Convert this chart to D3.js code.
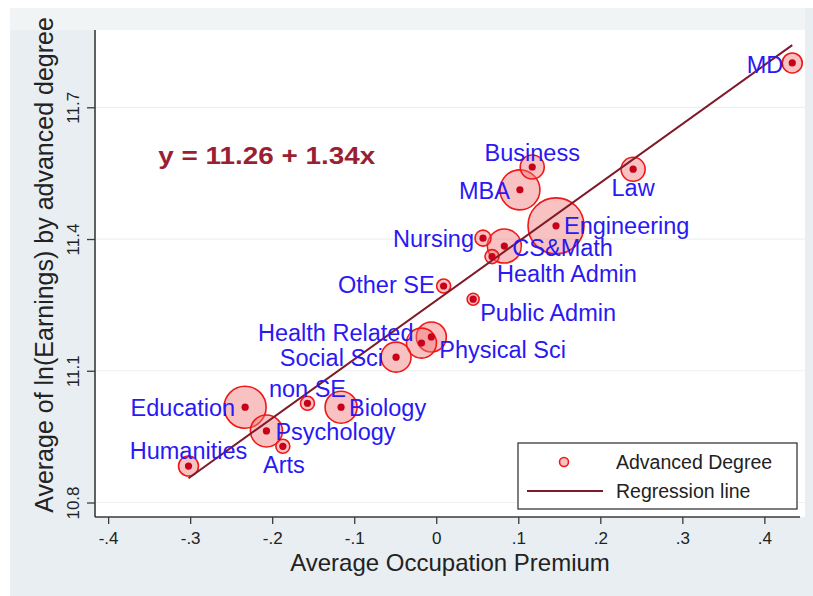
<!DOCTYPE html>
<html>
<head>
<meta charset="utf-8">
<script src="https://cdn.jsdelivr.net/npm/d3@7"></script>
<style>
  body { margin: 0; background: #fff; }
  svg { display: block; font-family: "Liberation Sans", Arial, sans-serif; }
</style>
</head>
<body>
<svg id="chart" width="813" height="596"></svg>
<script>
// fields of study and their averages
var fields = ["MD", "Business", "MBA", "Law", "Engineering", "Nursing", "CS&Math", "Health Admin",
  "Other SE", "Public Admin", "Physical Sci", "Health Related", "Social Sci", "non SE", "Biology",
  "Education", "Psychology", "Arts", "Humanities"];
var premium = [0.434, 0.117, 0.102, 0.240, 0.146, 0.057, 0.083, 0.068,
  0.009, 0.045, -0.006, -0.018, -0.049, -0.157, -0.116,
  -0.233, -0.207, -0.187, -0.302];
var earnings = [11.801, 11.564, 11.512, 11.559, 11.430, 11.402, 11.384, 11.360,
  11.293, 11.263, 11.177, 11.163, 11.131, 11.026, 11.017,
  11.017, 10.963, 10.928, 10.883];
// relative number of people (bubble weight)
var weight = [100, 144, 400, 144, 784, 64, 289, 49,
  49, 36, 225, 225, 225, 49, 256,
  441, 256, 49, 100];
// regression line y = a + b x
var intercept = 11.26, slope = 1.34;
var xTicks = [-0.4, -0.3, -0.2, -0.1, 0, 0.1, 0.2, 0.3, 0.4];
var yTicks = [10.8, 11.1, 11.4, 11.7];

// label placement (dx, dy from point centre, anchor)
var labelPos = {
  "MD": [-9, 2, "end"], "Business": [0, -14, "middle"], "MBA": [-10, 1, "end"],
  "Law": [0, 19, "middle"], "Engineering": [8, 0, "start"], "Nursing": [-9, 1, "end"],
  "CS&Math": [8, 2, "start"], "Health Admin": [5, 17, "start"], "Other SE": [-9, -1, "end"],
  "Public Admin": [7, 14, "start"], "Physical Sci": [8, 13, "start"], "Health Related": [-8, -10, "end"],
  "Social Sci": [-13, 1, "end"], "non SE": [0, -14, "middle"], "Biology": [8, 1, "start"],
  "Education": [-10, 1, "end"], "Psychology": [9, 1, "start"], "Arts": [1, 18, "middle"],
  "Humanities": [0, -15, "middle"]
};

var svg = d3.select("#chart");
var mLeft = 95, mRight = 798, mTop = 30, mBottom = 517;

svg.append("rect").attr("x", 10).attr("y", 8).attr("width", 803).attr("height", 588).attr("fill", "#e8eef1");
svg.append("rect").attr("x", 10).attr("y", 8).attr("width", 795).attr("height", 22).attr("fill", "#f1f4f5");
svg.append("rect").attr("x", mLeft).attr("y", mTop).attr("width", 805 - mLeft).attr("height", mBottom - mTop).attr("fill", "#fff");

var x = d3.scaleLinear().domain([-0.416, 0.441]).range([mLeft, mRight]);
var y = d3.scaleLinear().domain([10.767, 11.876]).range([mBottom, mTop]);
var r = d3.scaleSqrt().domain([0, d3.max(weight)]).range([0, 28]);

var fmt = function (d) { return d === 0 ? "0" : String(+d.toFixed(1)).replace(/^(-?)0\./, "$1."); };

// grid
svg.selectAll(".grid").data(yTicks).enter().append("line")
  .attr("x1", mLeft).attr("x2", 805)
  .attr("y1", function (d) { return y(d); }).attr("y2", function (d) { return y(d); })
  .attr("stroke", "#eef1f2").attr("stroke-width", 1.2);

// axes
var xAxis = svg.append("g").attr("transform", "translate(0," + mBottom + ")")
  .call(d3.axisBottom(x).tickValues(xTicks).tickFormat(fmt).tickSize(7).tickPadding(8));
xAxis.select(".domain").attr("d", "M" + mLeft + ",0H" + 800);
var yAxis = svg.append("g").attr("transform", "translate(" + mLeft + ",0)")
  .call(d3.axisLeft(y).tickValues(yTicks).tickFormat(function (d) { return d.toFixed(1); }).tickSize(8));
yAxis.select(".domain").attr("d", "M0," + mTop + "V" + mBottom);
svg.selectAll(".domain").attr("stroke", "#3a3a3a").attr("stroke-width", 1.6);
svg.selectAll(".tick line").attr("stroke", "#3a3a3a").attr("stroke-width", 1.3);
xAxis.selectAll("text").attr("font-size", 17).attr("fill", "#222").attr("font-family", "Liberation Sans, Arial");
yAxis.selectAll("text")
  .attr("font-size", 17).attr("fill", "#222").attr("font-family", "Liberation Sans, Arial")
  .attr("x", 0).attr("dy", 0).attr("text-anchor", "middle")
  .attr("transform", "translate(-16,0) rotate(-90)");

// axis titles
svg.append("text").attr("x", 450).attr("y", 571).attr("text-anchor", "middle")
  .attr("font-size", 24).attr("fill", "#222").text("Average Occupation Premium");
svg.append("text").attr("transform", "translate(53,265) rotate(-90)").attr("text-anchor", "middle")
  .attr("font-size", 25).attr("fill", "#222").text("Average of ln(Earnings) by advanced degree");

var data = fields.map(function (f, i) {
  return { name: f, x: premium[i], y: earnings[i], w: weight[i] };
});

// bubbles (bigger first)
var sorted = data.slice().sort(function (a, b) { return b.w - a.w; });
svg.selectAll(".bubble").data(sorted).enter().append("circle")
  .attr("cx", function (d) { return x(d.x); }).attr("cy", function (d) { return y(d.y); })
  .attr("r", function (d) { return r(d.w); })
  .attr("fill", "rgba(240,120,120,0.45)").attr("stroke", "#f01818").attr("stroke-width", 1.6);

// regression line
svg.append("line")
  .attr("x1", x(-0.302)).attr("y1", y(intercept + slope * -0.302))
  .attr("x2", x(0.434)).attr("y2", y(intercept + slope * 0.434))
  .attr("stroke", "#7e1a2a").attr("stroke-width", 2);

// centre dots
svg.selectAll(".dot").data(data).enter().append("circle")
  .attr("cx", function (d) { return x(d.x); }).attr("cy", function (d) { return y(d.y); })
  .attr("r", 3.6).attr("fill", "#c8001a");

// labels
svg.selectAll(".lab").data(data).enter().append("text")
  .attr("x", function (d) { return x(d.x) + labelPos[d.name][0]; })
  .attr("y", function (d) { return y(d.y) + labelPos[d.name][1]; })
  .attr("dy", "0.35em")
  .attr("text-anchor", function (d) { return labelPos[d.name][2]; })
  .attr("font-size", 23.5).attr("fill", "#2a18f5")
  .text(function (d) { return d.name; });

// equation
svg.append("text").attr("x", x(-0.339)).attr("y", y(11.59)).attr("dy", "0.35em")
  .attr("font-size", 24).attr("font-weight", "bold").attr("fill", "#9a1f33")
  .attr("textLength", 217).attr("lengthAdjust", "spacingAndGlyphs")
  .text("y = " + intercept.toFixed(2) + " + " + slope.toFixed(2) + "x");

// legend
var lg = svg.append("g");
lg.append("rect").attr("x", 518).attr("y", 443).attr("width", 279).attr("height", 66)
  .attr("fill", "#fff").attr("stroke", "#3a3a3a").attr("stroke-width", 1.3);
lg.append("circle").attr("cx", 564).attr("cy", 462).attr("r", 4.5)
  .attr("fill", "rgba(240,120,120,0.45)").attr("stroke", "#f01818").attr("stroke-width", 1.6);
lg.append("line").attr("x1", 527).attr("x2", 603).attr("y1", 491).attr("y2", 491)
  .attr("stroke", "#7e1a2a").attr("stroke-width", 2);
lg.append("text").attr("x", 616).attr("y", 462).attr("dy", "0.35em").attr("font-size", 19.5).attr("fill", "#222").text("Advanced Degree");
lg.append("text").attr("x", 616).attr("y", 491).attr("dy", "0.35em").attr("font-size", 19.5).attr("fill", "#222").text("Regression line");
</script>
</body>
</html>
